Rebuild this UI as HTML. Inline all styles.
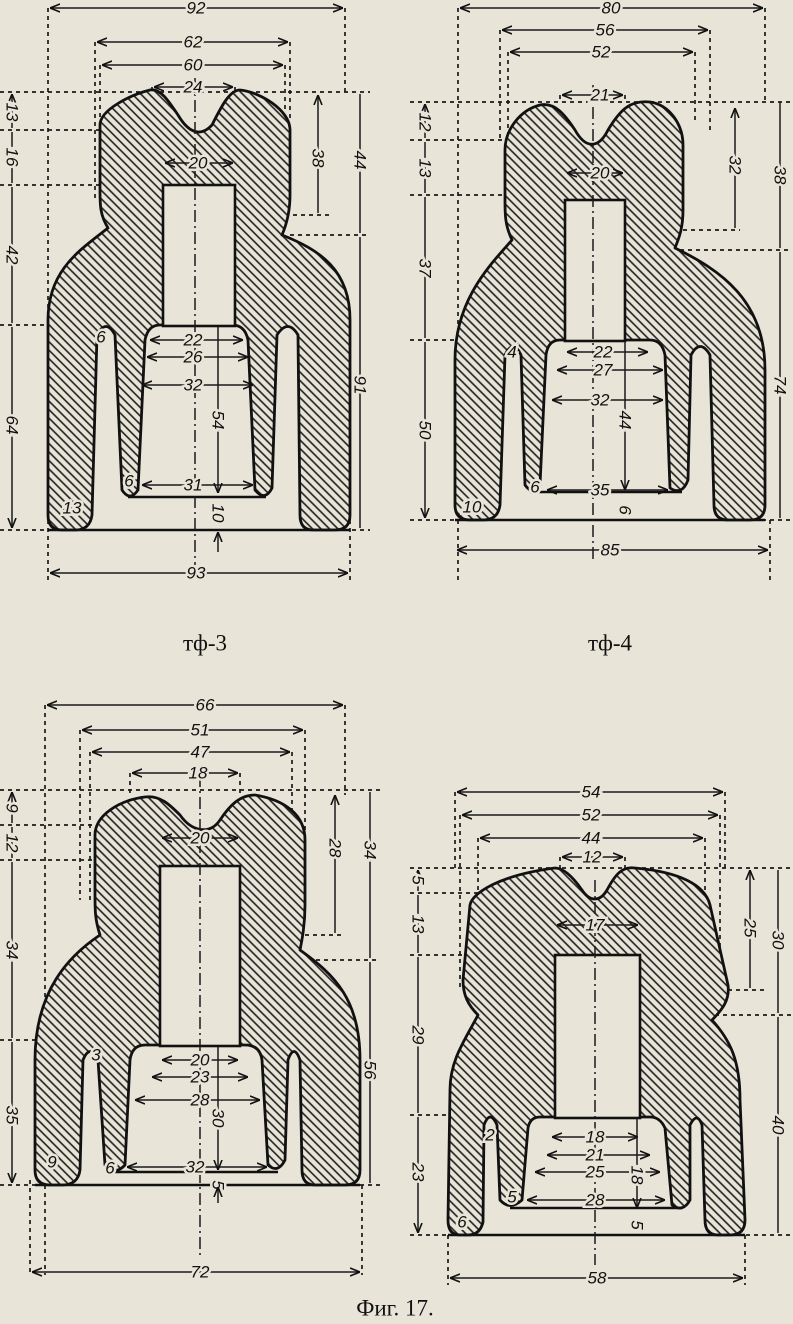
<!DOCTYPE html>
<html><head><meta charset="utf-8"><style>
html,body{margin:0;padding:0;background:#e8e5d8;}
svg{display:block}
.o{fill:url(#h);stroke:#111;stroke-width:2.8;stroke-linejoin:round}
.c{fill:#e8e5d8;stroke:#111;stroke-width:2.6}
.l{stroke:#111;stroke-width:2.6;fill:none}
.d{stroke:#1a1a1a;stroke-width:1.5;fill:none;marker-start:url(#a);marker-end:url(#a)}
.e{stroke:#1a1a1a;stroke-width:1.7;stroke-dasharray:4 4;fill:none}
.cl{stroke:#1a1a1a;stroke-width:1.5;stroke-dasharray:12 4 2 4;fill:none}
text{font-family:"Liberation Sans",sans-serif;font-style:italic;font-size:17px;fill:#111;text-anchor:middle;dominant-baseline:central;paint-order:stroke;stroke:#e8e5d8;stroke-width:5px}
.cap{font-family:"Liberation Serif","DejaVu Serif",serif;font-style:normal;font-size:23px;stroke:none}
</style></head><body>
<svg width="793" height="1324" viewBox="0 0 793 1324" xmlns="http://www.w3.org/2000/svg">
<defs>
<pattern id="h" width="6" height="6" patternUnits="userSpaceOnUse" patternTransform="rotate(-45)">
<rect width="6" height="6" fill="#e8e5d8"/><line x1="3" y1="0" x2="3" y2="6" stroke="#1e1e1e" stroke-width="1.6"/></pattern>
<marker id="a" viewBox="0 0 10 10" refX="10" refY="5" markerWidth="10" markerHeight="10" orient="auto-start-reverse" markerUnits="userSpaceOnUse"><path d="M0 1 L10 5 L0 9" fill="none" stroke="#111" stroke-width="1.6"/></marker>
</defs>

<!-- ============ FIG 1 ============ -->
<g>
<path class="e" d="M48 8V580 M345 8V92 M95 42V200 M100 65V200 M152 87V95 M235 87V95 M285 65V110 M290 42V120 M350 520V580 M0 92H370 M0 130H160 M0 185H163 M0 325H150 M285 215H330 M290 235H370 M0 530H370"/>
<path class="o" d="M48 515 L48 320 C48 270 80 250 108 228 C100 215 100 205 100 190 L100 125 C100 110 130 95 150 90 C160 88 168 100 178 115 C188 132 200 138 212 125 C222 105 230 90 240 90 C260 92 290 110 290 130 L290 195 C290 215 285 228 282 235 C320 250 350 270 350 320 L350 515 Q350 530 335 530 L313 530 Q300 530 300 515 L298 335 Q288 318 277 335 L272 488 Q265 502 255 490 L248 340 Q245 325 232 325 L160 325 Q148 325 145 340 L138 490 Q130 502 122 490 L115 335 Q106 318 97 335 L92 515 Q90 530 75 530 L62 530 Q48 530 48 515 Z"/>
<rect class="c" x="163" y="185" width="72" height="141"/>
<path class="l" d="M128 497H266 M48 530H350"/>
<path class="cl" d="M195 78V565"/>
<path class="d" d="M50 8H343"/><text x="196" y="8">92</text>
<path class="d" d="M97 42H288"/><text x="193" y="42">62</text>
<path class="d" d="M102 65H283"/><text x="193" y="65">60</text>
<path class="d" d="M154 87H233"/><text x="193" y="87">24</text>
<path class="d" d="M165 163H233"/><text x="198" y="163">20</text>
<path class="d" d="M150 340H243"/><text x="193" y="340">22</text>
<path class="d" d="M147 357H248"/><text x="193" y="357">26</text>
<path class="d" d="M142 385H253"/><text x="193" y="385">32</text>
<path class="d" d="M142 485H253"/><text x="193" y="485">31</text>
<path class="d" d="M50 573H348"/><text x="196" y="573">93</text>
<text x="101" y="337">6</text><text x="129" y="481">6</text><text x="72" y="508">13</text>
<path class="d" d="M12 94V128 M12 132V183 M12 187V323 M12 327V528"/>
<text x="12" y="112" transform="rotate(90 12 112)">13</text>
<text x="12" y="157" transform="rotate(90 12 157)">16</text>
<text x="12" y="255" transform="rotate(90 12 255)">42</text>
<text x="12" y="425" transform="rotate(90 12 425)">64</text>
<path class="d" d="M318 95V213 M360 94V233 M360 237V528 M218 327V493"/>
<text x="318" y="158" transform="rotate(90 318 158)">38</text>
<text x="360" y="160" transform="rotate(90 360 160)">44</text>
<text x="360" y="385" transform="rotate(90 360 385)">91</text>
<text x="218" y="420" transform="rotate(90 218 420)">54</text>
<text x="218" y="513" transform="rotate(90 218 513)">10</text>
<path class="d" style="marker-start:none" d="M218 552V532"/>
<text class="cap" x="205" y="643">тф-3</text>
</g>

<!-- ============ FIG 2 ============ -->
<g>
<path class="e" d="M458 8V580 M765 8V100 M500 30V140 M508 52V140 M560 95V102 M625 95V102 M695 52V120 M710 30V130 M770 520V580 M410 102H790 M410 140H520 M410 195H565 M410 340H545 M683 230H740 M680 250H790 M410 520H790"/>
<path class="o" d="M455 505 L455 360 C455 300 490 265 512 240 C505 225 505 215 505 200 L505 150 C505 130 520 110 540 105 C555 102 565 115 575 130 C585 148 598 150 608 130 C620 110 630 100 650 102 C670 105 683 125 683 145 L683 210 C683 230 678 240 675 248 C720 270 765 300 765 370 L765 505 Q765 520 750 520 L728 520 Q714 520 714 505 L710 355 Q700 338 691 355 L688 480 Q682 496 670 488 L665 355 Q662 340 650 340 L560 340 Q548 340 546 355 L540 485 Q533 496 525 485 L521 355 Q513 338 505 355 L500 505 Q498 520 483 520 L470 520 Q455 520 455 505 Z"/>
<rect class="c" x="565" y="200" width="60" height="141"/>
<path class="l" d="M530 492H682 M455 520H765"/>
<path class="cl" d="M593 85V560"/>
<path class="d" d="M460 8H763"/><text x="611" y="8">80</text>
<path class="d" d="M502 30H708"/><text x="605" y="30">56</text>
<path class="d" d="M510 52H693"/><text x="601" y="52">52</text>
<path class="d" d="M562 95H623"/><text x="600" y="95">21</text>
<path class="d" d="M567 173H623"/><text x="600" y="173">20</text>
<path class="d" d="M567 352H648"/><text x="603" y="352">22</text>
<path class="d" d="M557 370H663"/><text x="603" y="370">27</text>
<path class="d" d="M552 400H663"/><text x="600" y="400">32</text>
<path class="d" d="M547 490H668"/><text x="600" y="490">35</text>
<path class="d" d="M457 550H768"/><text x="610" y="550">85</text>
<text x="472" y="507">10</text><text x="535" y="487">6</text><text x="512" y="352">4</text>
<path class="d" d="M425 104V138 M425 142V193 M425 197V338 M425 342V518"/>
<text x="425" y="122" transform="rotate(90 425 122)">12</text>
<text x="425" y="168" transform="rotate(90 425 168)">13</text>
<text x="425" y="268" transform="rotate(90 425 268)">37</text>
<text x="425" y="430" transform="rotate(90 425 430)">50</text>
<path class="d" d="M735 108V228 M780 102V248 M780 252V518 M625 342V490"/>
<text x="735" y="165" transform="rotate(90 735 165)">32</text>
<text x="780" y="175" transform="rotate(90 780 175)">38</text>
<text x="780" y="385" transform="rotate(90 780 385)">74</text>
<text x="625" y="420" transform="rotate(90 625 420)">44</text>
<text x="625" y="510" transform="rotate(90 625 510)">6</text>
<text class="cap" x="610" y="643">тф-4</text>
</g>

<!-- ============ FIG 3 ============ -->
<g>
<path class="e" d="M45 705V1275 M345 705V795 M80 730V900 M90 752V900 M130 773V795 M240 773V795 M292 752V830 M305 730V830 M362 1185V1275 M30 1180V1275 M0 790H380 M0 825H160 M0 860H160 M0 1040H150 M305 935H345 M300 960H380 M0 1185H380"/>
<path class="o" d="M35 1165 L35 1060 C35 990 70 955 100 935 C95 920 95 910 95 895 L95 835 C95 815 120 800 145 797 C160 795 170 805 180 815 C192 832 210 835 220 820 C230 805 240 795 255 795 C285 800 305 815 305 840 L305 905 C305 925 302 940 300 950 C335 975 360 1000 360 1060 L360 1170 Q360 1185 345 1185 L315 1185 Q302 1185 302 1170 L300 1060 Q294 1043 288 1060 L285 1160 Q278 1174 268 1165 L262 1060 Q260 1045 245 1045 L145 1045 Q132 1045 130 1060 L125 1165 Q115 1176 105 1165 L98 1060 Q90 1043 83 1060 L80 1170 Q78 1185 62 1185 L50 1185 Q35 1185 35 1170 Z"/>
<rect class="c" x="160" y="866" width="80" height="180"/>
<path class="l" d="M115 1172H278 M35 1185H360"/>
<path class="cl" d="M200 775V1255"/>
<path class="d" d="M47 705H343"/><text x="205" y="705">66</text>
<path class="d" d="M82 730H303"/><text x="200" y="730">51</text>
<path class="d" d="M92 752H290"/><text x="200" y="752">47</text>
<path class="d" d="M132 773H238"/><text x="198" y="773">18</text>
<path class="d" d="M162 838H238"/><text x="200" y="838">20</text>
<path class="d" d="M162 1060H238"/><text x="200" y="1060">20</text>
<path class="d" d="M152 1077H248"/><text x="200" y="1077">23</text>
<path class="d" d="M135 1100H260"/><text x="200" y="1100">28</text>
<path class="d" d="M127 1167H267"/><text x="195" y="1167">32</text>
<path class="d" d="M32 1272H360"/><text x="200" y="1272">72</text>
<text x="110" y="1168">6</text><text x="52" y="1162">9</text><text x="96" y="1055">3</text>
<path class="d" d="M12 792V823 M12 827V858 M12 862V1038 M12 1042V1183"/>
<text x="12" y="808" transform="rotate(90 12 808)">9</text>
<text x="12" y="843" transform="rotate(90 12 843)">12</text>
<text x="12" y="950" transform="rotate(90 12 950)">34</text>
<text x="12" y="1115" transform="rotate(90 12 1115)">35</text>
<path class="d" d="M335 795V933 M370 792V958 M370 962V1183 M218 1047V1170"/>
<text x="335" y="848" transform="rotate(90 335 848)">28</text>
<text x="370" y="850" transform="rotate(90 370 850)">34</text>
<text x="370" y="1070" transform="rotate(90 370 1070)">56</text>
<text x="218" y="1118" transform="rotate(90 218 1118)">30</text>
<text x="218" y="1185" transform="rotate(90 218 1185)">5</text>
<path class="d" style="marker-start:none" d="M218 1203V1187"/>
</g>

<!-- ============ FIG 4 ============ -->
<g>
<path class="e" d="M455 792V870 M725 792V870 M460 815V990 M720 815V990 M478 838V900 M705 838V900 M560 857V870 M625 857V870 M448 1235V1285 M745 1235V1285 M410 868H793 M410 893H480 M410 955H555 M410 1115H530 M728 990H765 M715 1015H793 M410 1235H793"/>
<path class="o" d="M448 1220 L450 1090 C450 1060 465 1040 478 1015 C468 1005 463 995 463 980 L470 905 C472 893 500 875 555 868 C565 868 575 880 582 890 C590 902 600 902 607 890 C615 875 622 866 635 868 C680 872 705 885 710 905 L728 985 C730 1000 722 1010 712 1020 C730 1040 740 1060 740 1100 L745 1220 Q745 1235 730 1235 L718 1235 Q705 1235 705 1220 L702 1125 Q697 1111 690 1125 L690 1200 Q683 1213 672 1205 L665 1128 Q660 1117 650 1117 L540 1117 Q530 1117 528 1128 L522 1200 Q510 1211 500 1200 L497 1125 Q490 1109 484 1125 L483 1222 Q480 1235 468 1235 L460 1235 Q448 1235 448 1220 Z"/>
<rect class="c" x="555" y="955" width="85" height="163"/>
<path class="l" d="M510 1208H682 M448 1235H745"/>
<path class="cl" d="M595 880V1265"/>
<path class="d" d="M457 792H723"/><text x="591" y="792">54</text>
<path class="d" d="M462 815H718"/><text x="591" y="815">52</text>
<path class="d" d="M480 838H703"/><text x="591" y="838">44</text>
<path class="d" d="M562 857H623"/><text x="592" y="857">12</text>
<path class="d" d="M557 925H638"/><text x="595" y="925">17</text>
<path class="d" d="M552 1137H638"/><text x="595" y="1137">18</text>
<path class="d" d="M547 1155H650"/><text x="595" y="1155">21</text>
<path class="d" d="M535 1172H660"/><text x="595" y="1172">25</text>
<path class="d" d="M527 1200H665"/><text x="595" y="1200">28</text>
<path class="d" d="M450 1278H743"/><text x="597" y="1278">58</text>
<text x="462" y="1222">6</text><text x="512" y="1197">5</text><text x="490" y="1135">2</text>
<path class="d" d="M418 870V891 M418 895V953 M418 957V1113 M418 1117V1233"/>
<text x="418" y="880" transform="rotate(90 418 880)">5</text>
<text x="418" y="924" transform="rotate(90 418 924)">13</text>
<text x="418" y="1035" transform="rotate(90 418 1035)">29</text>
<text x="418" y="1172" transform="rotate(90 418 1172)">23</text>
<path class="d" d="M750 870V988 M778 870V1013 M778 1017V1233 M637 1117V1208"/>
<text x="750" y="928" transform="rotate(90 750 928)">25</text>
<text x="778" y="940" transform="rotate(90 778 940)">30</text>
<text x="778" y="1125" transform="rotate(90 778 1125)">40</text>
<text x="637" y="1175" transform="rotate(90 637 1175)">18</text>
<text x="637" y="1225" transform="rotate(90 637 1225)">5</text>
</g>

<text class="cap" x="395" y="1308">Фиг. 17.</text>
</svg>
</body></html>
